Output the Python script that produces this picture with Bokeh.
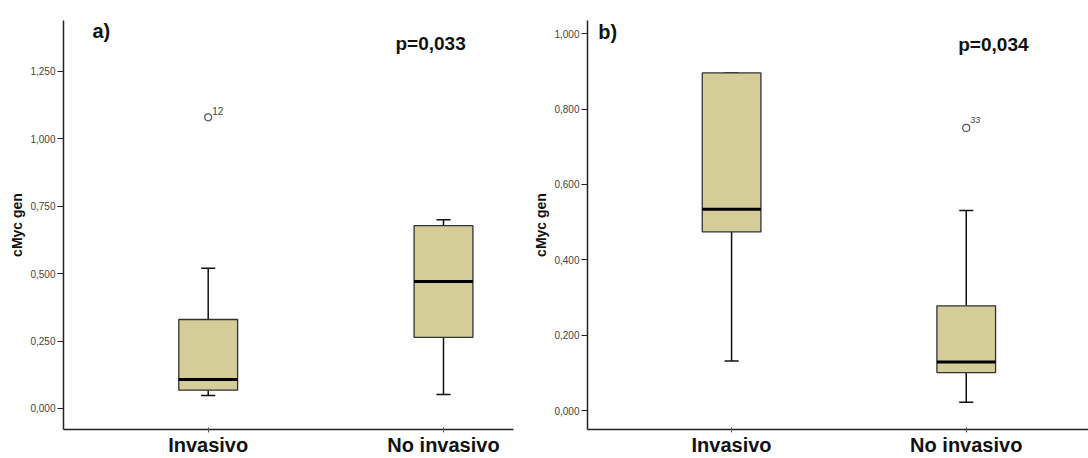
from bokeh.plotting import figure
from bokeh.layouts import row
from bokeh.models import Range1d, FixedTicker, Label, ColumnDataSource
from bokeh.core.properties import value
from bokeh.embed import file_html
from bokeh.resources import INLINE

FONT = "Liberation Sans"

groups = ["Invasivo", "No invasivo"]
group_pos = [1, 2]

# panel a) five-number summaries per group
a_low = [0.048, 0.052]
a_q1 = [0.068, 0.264]
a_med = [0.107, 0.471]
a_q3 = [0.330, 0.678]
a_high = [0.520, 0.700]
a_out_pos = [1]
a_out_val = [1.080]
a_out_id = ["12"]
a_p = "p=0,033"
a_ticks = [0.0, 0.25, 0.5, 0.75, 1.0, 1.25]
a_tick_labels = ["0,000", "0,250", "0,500", "0,750", "1,000", "1,250"]

# panel b)
b_low = [0.132, 0.022]
b_q1 = [0.474, 0.101]
b_med = [0.534, 0.129]
b_q3 = [0.896, 0.278]
b_high = [0.896, 0.531]
b_out_pos = [2]
b_out_val = [0.750]
b_out_id = ["33"]
b_p = "p=0,034"
b_ticks = [0.0, 0.2, 0.4, 0.6, 0.8, 1.0]
b_tick_labels = ["0,000", "0,200", "0,400", "0,600", "0,800", "1,000"]

BOX_FILL = "#d4cd99"
BOX_W = 0.25
CAP_HALF = 0.03


def make_panel(width, borders, xr, yr, low, q1, med, q3, high,
               out_pos, out_val, out_id, out_italic, ticks, tick_labels,
               tag, tag_xy, ptext, p_xy, out_off):
    left, right, top, bottom = borders
    p = figure(width=width, height=458, output_backend="svg", toolbar_location=None,
               title_location=None,
               x_range=Range1d(*xr), y_range=Range1d(*yr),
               min_border_left=left, min_border_right=right,
               min_border_top=top, min_border_bottom=bottom)
    p.outline_line_color = None
    p.xgrid.visible = False
    p.ygrid.visible = False
    p.background_fill_color = "white"
    p.border_fill_color = "white"

    src = ColumnDataSource(dict(
        x=group_pos, low=low, q1=q1, med=med, q3=q3, high=high,
        x0=[g - BOX_W / 2 for g in group_pos], x1=[g + BOX_W / 2 for g in group_pos],
        c0=[g - CAP_HALF for g in group_pos], c1=[g + CAP_HALF for g in group_pos],
    ))
    # whiskers and caps
    p.segment(x0="x", y0="q3", x1="x", y1="high", source=src, line_color="#111", line_width=1.5)
    p.segment(x0="x", y0="q1", x1="x", y1="low", source=src, line_color="#111", line_width=1.5)
    p.segment(x0="c0", y0="high", x1="c1", y1="high", source=src, line_color="#111", line_width=1.5)
    p.segment(x0="c0", y0="low", x1="c1", y1="low", source=src, line_color="#111", line_width=1.5)
    # boxes
    p.vbar(x="x", width=BOX_W, bottom="q1", top="q3", source=src,
           fill_color=BOX_FILL, line_color="#333", line_width=1.3)
    # medians
    p.segment(x0="x0", y0="med", x1="x1", y1="med", source=src, line_color="#000", line_width=3)

    # outliers with case numbers
    osrc = ColumnDataSource(dict(x=out_pos, y=out_val, t=out_id))
    p.scatter(x="x", y="y", source=osrc, marker="circle", size=7,
              fill_color="white", line_color="#555", line_width=1.2)
    p.text(x="x", y="y", text="t", source=osrc, x_offset=out_off[0], y_offset=out_off[1],
           text_font=value(FONT), text_font_size="10px" if not out_italic else "9px",
           text_font_style="italic" if out_italic else "normal",
           text_color="#444", text_baseline="alphabetic")

    # axes
    p.yaxis.ticker = FixedTicker(ticks=ticks)
    p.yaxis.major_label_overrides = {t: l for t, l in zip(ticks, tick_labels)}
    p.yaxis.axis_label = "cMyc gen"
    p.yaxis.axis_label_text_font = FONT
    p.yaxis.axis_label_text_font_style = "bold"
    p.yaxis.axis_label_text_font_size = "14px"
    p.yaxis.axis_label_text_color = "#111"
    p.yaxis.axis_label_standoff = 2
    p.yaxis.major_label_text_font = FONT
    p.yaxis.major_label_text_font_size = "10px"
    p.yaxis.major_label_text_color = "#444"
    p.yaxis.major_label_standoff = 2
    p.yaxis.major_tick_out = 6
    p.yaxis.major_tick_in = 0
    p.yaxis.minor_tick_line_color = None
    p.yaxis.axis_line_width = 1.5
    p.yaxis.axis_line_color = "#222"
    p.yaxis.major_tick_line_color = "#222"
    p.yaxis.major_tick_line_width = 1.2

    p.xaxis.ticker = FixedTicker(ticks=group_pos)
    p.xaxis.major_label_overrides = {g: n for g, n in zip(group_pos, groups)}
    p.xaxis.major_label_text_font = FONT
    p.xaxis.major_label_text_font_style = "bold"
    p.xaxis.major_label_text_font_size = "20px"
    p.xaxis.major_label_text_color = "#111"
    p.xaxis.major_label_standoff = 1
    p.xaxis.major_tick_out = 3
    p.xaxis.major_tick_in = 2
    p.xaxis.minor_tick_line_color = None
    p.xaxis.axis_line_width = 1.5
    p.xaxis.axis_line_color = "#222"
    p.xaxis.major_tick_line_color = "#555"

    p.add_layout(Label(x=tag_xy[0], y=tag_xy[1], text=tag, text_font=FONT,
                       text_font_style="bold", text_font_size="20px", text_color="#111",
                       text_baseline="alphabetic"))
    p.add_layout(Label(x=p_xy[0], y=p_xy[1], text=ptext, text_font=FONT,
                       text_font_style="bold", text_font_size="19px", text_color="#111",
                       text_baseline="alphabetic"))
    return p


pa = make_panel(530, (63, 17, 20, 28), (0.385, 2.2975), (-0.078, 1.439),
                a_low, a_q1, a_med, a_q3, a_high,
                a_out_pos, a_out_val, a_out_id, False, a_ticks, a_tick_labels,
                "a)", (0.508, 1.40), a_p, (1.796, 1.352), (4, -6))

pb = make_panel(558, (54, 0, 20, 28), (0.386, 2.521), (-0.050, 1.035),
                b_low, b_q1, b_med, b_q3, b_high,
                b_out_pos, b_out_val, b_out_id, True, b_ticks, b_tick_labels,
                "b)", (0.432, 1.004), b_p, (1.966, 0.972), (4, -8))

layout = row(pa, pb)
open("out.html", "w").write(file_html(layout, INLINE))
